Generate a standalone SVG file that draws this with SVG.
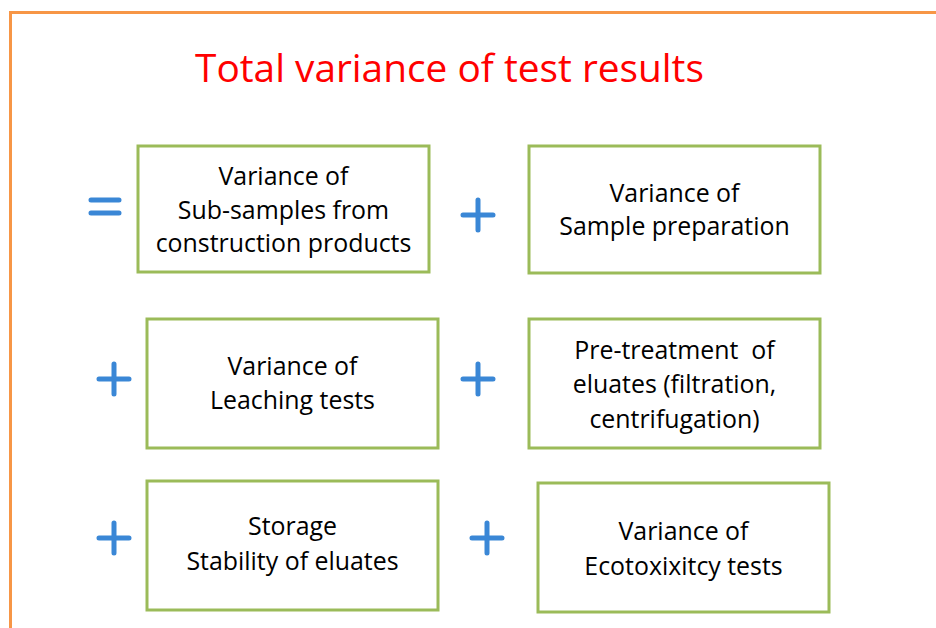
<svg xmlns="http://www.w3.org/2000/svg" width="936" height="628" viewBox="0 0 936 628">
<style>
.box{fill:#fff;stroke:#9BBB59;stroke-width:3}
.t{font-family:"Open Sans","Noto Sans","Liberation Sans",sans-serif;font-size:24.9px;fill:#000;text-anchor:middle}
.op{stroke:#3A87D6;stroke-width:5;stroke-linecap:round;fill:none}
</style>
<rect width="936" height="628" fill="#fff"/>
<path d="M10.5 628 V12.5 H936" fill="none" stroke="#F79646" stroke-width="3"/>
<text x="449.5" y="82" font-family="'Open Sans','Noto Sans',sans-serif" font-size="38.8" fill="#FF0000" text-anchor="middle">Total variance of test results</text>
<g id="operators">
<path class="op" d="M91 200 H119 M91 213 H119"/>
<path class="op" d="M463 215 H493 M478 200 V230"/>
<path class="op" d="M99 379 H129 M114 364 V394"/>
<path class="op" d="M463 379 H493 M478 364 V394"/>
<path class="op" d="M99 538 H129 M114 523 V553"/>
<path class="op" d="M472 538 H502 M487 523 V553"/>
</g>
<g id="connectors"></g>
<g id="n1">
<rect class="box" x="138" y="146" width="291" height="126"/>
<text class="t" x="283.5" y="185">Variance of</text>
<text class="t" x="283.5" y="218.5">Sub-samples from</text>
<text class="t" x="283.5" y="252">construction products</text>
</g>
<g id="n2">
<rect class="box" x="529" y="146" width="291" height="127"/>
<text class="t" x="674.5" y="201.5">Variance of</text>
<text class="t" x="674.5" y="235">Sample preparation</text>
</g>
<g id="n3">
<rect class="box" x="147" y="319" width="291" height="129"/>
<text class="t" x="292.5" y="375">Variance of</text>
<text class="t" x="292.5" y="409">Leaching tests</text>
</g>
<g id="n4">
<rect class="box" x="529" y="319" width="291" height="129"/>
<text class="t" x="674.5" y="358.5" xml:space="preserve">Pre-treatment  of</text>
<text class="t" x="674.5" y="393">eluates (filtration,</text>
<text class="t" x="674.5" y="427.5">centrifugation)</text>
</g>
<g id="n5">
<rect class="box" x="147" y="481" width="291" height="129"/>
<text class="t" x="292.5" y="535">Storage</text>
<text class="t" x="292.5" y="570">Stability of eluates</text>
</g>
<g id="n6">
<rect class="box" x="538" y="483" width="291" height="129"/>
<text class="t" x="683.5" y="540">Variance of</text>
<text class="t" x="683.5" y="575">Ecotoxixitcy tests</text>
</g>
</svg>
